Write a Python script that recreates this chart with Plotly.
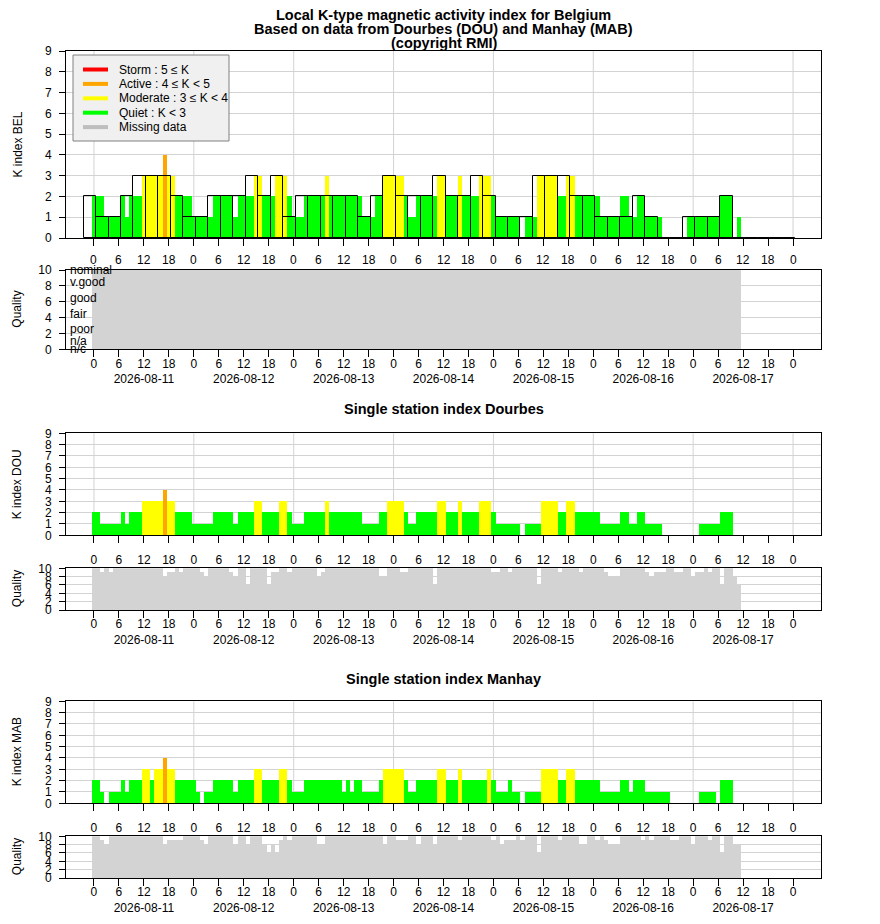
import plotly.graph_objects as go

# hourly stamps, hours since 2026-08-11 00:00
HOURS = list(range(156))

# running (hourly) K index, one row per day
K_BEL = [
    2, 2, 2, 1, 1, 1, 1, 2, 1, 2, 2, 2, 3, 3, 3, 3, 3, 4, 3, 3, 2, 2, 2, 2,
    1, 1, 1, 1, 1, 2, 2, 2, 2, 2, 1, 2, 2, 2, 2, 3, 3, 2, 2, 2, 3, 3, 3, 2,
    1, 1, 1, 2, 2, 2, 2, 2, 3, 2, 2, 2, 2, 2, 2, 2, 2, 1, 1, 1, 2, 2, 3, 3,
    3, 3, 3, 2, 1, 1, 2, 2, 2, 2, 2, 3, 3, 2, 2, 2, 3, 2, 2, 2, 2, 3, 3, 3,
    2, 1, 1, 1, 1, 1, 1, 0, 1, 1, 1, 3, 3, 3, 3, 3, 2, 2, 3, 3, 2, 2, 2, 2,
    2, 2, 1, 1, 1, 1, 1, 2, 2, 1, 1, 2, 2, 1, 1, 1, 1, 0, 0, 0, 0, 0, 0, 1,
    1, 1, 1, 1, 1, 1, 1, 2, 2, 2, 0, 1,
]
K_DOU = [
    2, 2, 1, 1, 1, 1, 1, 2, 1, 2, 2, 2, 3, 3, 3, 3, 3, 4, 3, 3, 2, 2, 2, 2,
    1, 1, 1, 1, 1, 2, 2, 2, 2, 2, 1, 2, 2, 2, 2, 3, 3, 2, 2, 2, 2, 3, 3, 2,
    1, 1, 1, 2, 2, 2, 2, 2, 3, 2, 2, 2, 2, 2, 2, 2, 2, 1, 1, 1, 1, 2, 2, 3,
    3, 3, 3, 2, 1, 1, 2, 2, 2, 2, 2, 3, 3, 2, 2, 2, 3, 2, 2, 2, 2, 3, 3, 3,
    2, 1, 1, 1, 1, 1, 1, 0, 1, 1, 1, 1, 3, 3, 3, 3, 2, 2, 3, 3, 2, 2, 2, 2,
    2, 2, 1, 1, 1, 1, 1, 2, 2, 1, 1, 2, 2, 1, 1, 1, 1, 0, 0, 0, 0, 0, 0, 0,
    0, 0, 1, 1, 1, 1, 1, 2, 2, 2, 0, 0,
]
K_MAB = [
    2, 2, 1, 0, 1, 1, 1, 2, 1, 2, 2, 2, 3, 3, 2, 3, 3, 4, 3, 3, 2, 2, 2, 2,
    2, 1, 0, 1, 1, 2, 2, 2, 2, 2, 1, 2, 2, 2, 2, 3, 3, 2, 2, 2, 2, 3, 3, 2,
    1, 1, 1, 2, 2, 2, 2, 2, 2, 2, 2, 2, 1, 2, 1, 2, 2, 1, 1, 1, 1, 2, 3, 3,
    3, 3, 3, 2, 1, 1, 2, 2, 2, 2, 2, 3, 3, 2, 2, 2, 3, 2, 2, 2, 2, 2, 2, 3,
    2, 1, 1, 1, 2, 1, 1, 0, 1, 1, 1, 1, 3, 3, 3, 3, 2, 2, 3, 3, 2, 2, 2, 2,
    2, 2, 1, 1, 1, 1, 1, 2, 2, 1, 2, 2, 2, 1, 1, 1, 1, 1, 1, 0, 0, 0, 0, 0,
    0, 0, 1, 1, 1, 1, 0, 2, 2, 2, 0, 0,
]

# data quality per hour (10 = nominal)
Q_BEL = [
    10, 10, 10, 10, 10, 10, 10, 10, 10, 10, 10, 10, 10, 10, 10, 10, 10, 10, 10, 10, 10, 10, 10, 10,
    10, 10, 10, 10, 10, 10, 10, 10, 10, 10, 10, 10, 10, 10, 10, 10, 10, 10, 10, 10, 10, 10, 10, 10,
    10, 10, 10, 10, 10, 10, 10, 10, 10, 10, 10, 10, 10, 10, 10, 10, 10, 10, 10, 10, 10, 10, 10, 10,
    10, 10, 10, 10, 10, 10, 10, 10, 10, 10, 10, 10, 10, 10, 10, 10, 10, 10, 10, 10, 10, 10, 10, 10,
    10, 10, 10, 10, 10, 10, 10, 10, 10, 10, 10, 10, 10, 10, 10, 10, 10, 10, 10, 10, 10, 10, 10, 10,
    10, 10, 10, 10, 10, 10, 10, 10, 10, 10, 10, 10, 10, 10, 10, 10, 10, 10, 10, 10, 10, 10, 10, 10,
    10, 10, 10, 10, 10, 10, 10, 10, 10, 10, 10, 10,
]
Q_DOU = [
    10, 10, 9, 10, 9, 10, 10, 10, 10, 10, 10, 10, 10, 10, 10, 10, 10, 8, 9, 9, 10, 9, 10, 10,
    10, 10, 9, 8, 10, 10, 10, 10, 10, 9, 8, 10, 10, 6, 10, 10, 10, 10, 6, 9, 9, 10, 10, 9,
    10, 10, 10, 10, 10, 10, 8, 9, 10, 10, 10, 10, 10, 10, 10, 10, 10, 10, 10, 10, 10, 8, 8, 10,
    10, 10, 9, 9, 10, 10, 10, 10, 10, 10, 6, 10, 10, 10, 10, 10, 10, 10, 10, 10, 10, 10, 10, 10,
    9, 9, 10, 10, 9, 10, 10, 10, 10, 10, 10, 6, 10, 10, 10, 10, 9, 10, 10, 10, 10, 9, 10, 10,
    10, 10, 10, 9, 8, 8, 8, 10, 10, 10, 10, 10, 10, 9, 8, 9, 9, 9, 10, 10, 9, 9, 10, 10,
    8, 9, 9, 10, 9, 10, 10, 6, 10, 10, 8, 6,
]
Q_MAB = [
    10, 10, 9, 8, 10, 10, 10, 10, 10, 10, 10, 10, 10, 10, 10, 10, 10, 8, 9, 9, 9, 9, 10, 10,
    10, 10, 9, 8, 10, 10, 10, 10, 10, 10, 8, 10, 10, 8, 10, 10, 10, 8, 6, 8, 6, 9, 10, 9,
    10, 10, 10, 10, 10, 10, 8, 8, 10, 10, 10, 10, 10, 10, 10, 10, 10, 10, 10, 10, 10, 10, 8, 10,
    10, 9, 9, 9, 10, 10, 8, 10, 10, 10, 8, 10, 10, 10, 10, 10, 9, 10, 10, 10, 10, 10, 10, 10,
    9, 10, 8, 9, 9, 9, 10, 9, 10, 10, 10, 6, 10, 10, 10, 10, 9, 10, 10, 10, 10, 8, 8, 10,
    10, 9, 10, 9, 8, 8, 8, 10, 10, 10, 10, 10, 9, 10, 9, 10, 10, 10, 10, 9, 9, 10, 10, 10,
    8, 10, 10, 10, 9, 10, 10, 6, 10, 10, 8, 8,
]

# 3-hour K index for Belgium (block k holds hours 3k-2 .. 3k)
K3_BEL = [
    2,
    1, 1, 2, 3, 3, 3, 2, 1,
    1, 2, 2, 2, 3, 2, 3, 1,
    2, 2, 2, 2, 2, 1, 2, 3,
    2, 2, 2, 3, 2, 2, 3, 2,
    1, 1, 1, 3, 3, 3, 2, 2,
    1, 1, 1, 2, 1, 0, 0, 1,
    1, 1, 2, 0, 0, 0, 0, 0,
]
K3_CENTERS = [3 * k - 1 for k in range(len(K3_BEL))]

TICK_HOURS = list(range(0, 169, 6))
TICK_LABELS = ["0", "6", "12", "18"] * 7 + ["0"]
DAY_HOURS = list(range(0, 169, 24))
DATES = ["2026-08-11", "2026-08-12", "2026-08-13", "2026-08-14",
         "2026-08-15", "2026-08-16", "2026-08-17"]

LEVELS = [
    ("Storm : 5 \u2264 K", "#FF0000"),
    ("Active : 4 \u2264 K < 5", "#FFA500"),
    ("Moderate : 3 \u2264 K < 4", "#FFFF00"),
    ("Quiet : K < 3", "#00FF00"),
    ("Missing data", "#BEBEBE"),
]
QUALITY_NAMES = ["nominal", "v.good", "good", "fair", "poor", "n/a", "n/c"]
QUALITY_AT = [10, 8.5, 6.5, 4.5, 2.5, 1, 0]

# the page adds an 8px body margin, so the figure is a bit smaller
OFF = 8
W, H = 880 - 2 * OFF, 924 - 2 * OFF
L, R = 66 - OFF, 821 - OFF
FONT = "Liberation Sans, Arial, sans-serif"
GRID = "#D3D3D3"


def k_color(k):
    if k >= 5:
        return "#FF0000"
    if k >= 4:
        return "#FFA500"
    if k >= 3:
        return "#FFFF00"
    return "#00FF00"


def py(px):
    # reference pixel row -> paper y
    return 1 - (px - OFF) / H


def pxx(px):
    # reference pixel column -> paper x
    return (px - OFF - L) / (R - L)


# panel boxes in reference pixels (top, bottom)
panels = [(51, 238), (270, 349.3), (433.3, 535.3), (568.3, 610), (701.3, 803.3), (836.3, 878)]

fig = go.Figure()

k_series = [K_BEL, K_DOU, K_MAB]
q_series = [Q_BEL, Q_DOU, Q_MAB]
for i in range(3):
    kx = "x" if i == 0 else f"x{2 * i + 1}"
    ky = "y" if i == 0 else f"y{2 * i + 1}"
    qx, qy = f"x{2 * i + 2}", f"y{2 * i + 2}"
    ks = k_series[i]
    fig.add_trace(go.Bar(
        x=HOURS, y=ks, width=1, xaxis=kx, yaxis=ky,
        marker=dict(color=[k_color(v) for v in ks], line_width=0),
        showlegend=False, hoverinfo="x+y",
    ))
    if i == 0:
        fig.add_trace(go.Bar(
            x=K3_CENTERS, y=K3_BEL, width=3, xaxis=kx, yaxis=ky,
            marker=dict(color="rgba(0,0,0,0)", line=dict(color="black", width=1)),
            showlegend=False, hoverinfo="x+y",
        ))
    fig.add_trace(go.Bar(
        x=HOURS, y=q_series[i], width=1, xaxis=qx, yaxis=qy,
        marker=dict(color="#D3D3D3", line_width=0),
        showlegend=False, hoverinfo="x+y",
    ))

layout = dict(
    width=W, height=H,
    margin=dict(l=L, r=W - R, t=0, b=0, autoexpand=False),
    plot_bgcolor="white", paper_bgcolor="white",
    barmode="overlay", bargap=0,
    font=dict(family=FONT, size=12, color="black"),
    showlegend=False,
)

q_ticktext = []
for j, lab in enumerate(TICK_LABELS):
    if j % 4 == 2 and j // 4 < len(DATES):
        q_ticktext.append(lab + "<br>" + DATES[j // 4])
    else:
        q_ticktext.append(lab)

shapes = []
annotations = []
for n, (top, bot) in enumerate(panels, start=1):
    sfx = "" if n == 1 else str(n)
    is_k = n % 2 == 1
    layout["xaxis" + sfx] = dict(
        range=[-6.72, 174.72], domain=[0, 1], anchor="y" + sfx,
        tickmode="array", tickvals=TICK_HOURS,
        ticktext=TICK_LABELS if is_k else q_ticktext,
        showticklabels=n != 1,
        tickangle=0, automargin=False,
        ticks="outside", ticklen=7, tickcolor="black",
        ticklabelstandoff=6 if is_k else -4,
        showgrid=False, zeroline=False,
        showline=True, mirror=True, linecolor="black", linewidth=1,
        fixedrange=True,
    )
    layout["yaxis" + sfx] = dict(
        range=[0, 9] if is_k else [0, 10],
        domain=[py(bot), py(top)], anchor="x" + sfx,
        dtick=1 if is_k else 2, tick0=0, automargin=False,
        ticks="outside", ticklen=6, tickcolor="black", ticklabelstandoff=5,
        showgrid=True, gridcolor=GRID, gridwidth=1, zeroline=False,
        showline=True, mirror=True, linecolor="black", linewidth=1,
        fixedrange=True,
    )
    if is_k:
        for d in DAY_HOURS:
            shapes.append(dict(
                type="line", xref="x" + sfx, yref=f"y{sfx} domain",
                x0=d, x1=d, y0=0, y1=1, layer="below",
                line=dict(color=GRID, width=1),
            ))
    ytitle = ["K index BEL", "K index DOU", "K index MAB"][(n - 1) // 2] if is_k else "Quality"
    annotations.append(dict(
        text=ytitle, xref="paper", yref="paper",
        x=pxx(17), y=py((top + bot) / 2), textangle=-90,
        xanchor="center", yanchor="middle",
        showarrow=False, font=dict(size=12),
    ))

# hour labels under the Belgium K panel
for hv, lab in zip(TICK_HOURS, TICK_LABELS):
    annotations.append(dict(
        text=lab, xref="x", yref="paper", x=hv, y=py(260),
        xanchor="center", yanchor="middle", showarrow=False, font=dict(size=12),
    ))

# quality level names inside the Belgium quality panel
for name, q in zip(QUALITY_NAMES, QUALITY_AT):
    annotations.append(dict(
        text=name, xref="paper", yref="y2", x=pxx(68), y=q,
        xanchor="left", yanchor="middle", showarrow=False, font=dict(size=12),
    ))

# titles
for txt, ypx in [
    ("Local K-type magnetic activity index for Belgium", 15),
    ("Based on data from Dourbes (DOU) and Manhay (MAB)", 29),
    ("(copyright RMI)", 43),
    ("Single station index Dourbes", 409),
    ("Single station index Manhay", 679),
]:
    annotations.append(dict(
        text="<b>" + txt + "</b>", xref="paper", yref="paper",
        x=0.5, y=py(ypx), yanchor="middle", showarrow=False, font=dict(size=14.5),
    ))

# legend box drawn in the Belgium panel
shapes.append(dict(
    type="rect", xref="paper", yref="paper",
    x0=pxx(73), x1=pxx(229), y0=py(141), y1=py(55),
    fillcolor="#F0F0F0", line=dict(color="#808080", width=1), layer="above",
))
for j, (lab, col) in enumerate(LEVELS):
    ypx = 69.5 + 14.4 * j
    shapes.append(dict(
        type="line", xref="paper", yref="paper",
        x0=pxx(83), x1=pxx(108), y0=py(ypx), y1=py(ypx),
        line=dict(color=col, width=4), layer="above",
    ))
    annotations.append(dict(
        text=lab, xref="paper", yref="paper", x=pxx(117), y=py(ypx),
        xanchor="left", yanchor="middle", showarrow=False, font=dict(size=12),
    ))

layout["shapes"] = shapes
layout["annotations"] = annotations
fig.update_layout(**layout)

fig.write_html("out.html")
